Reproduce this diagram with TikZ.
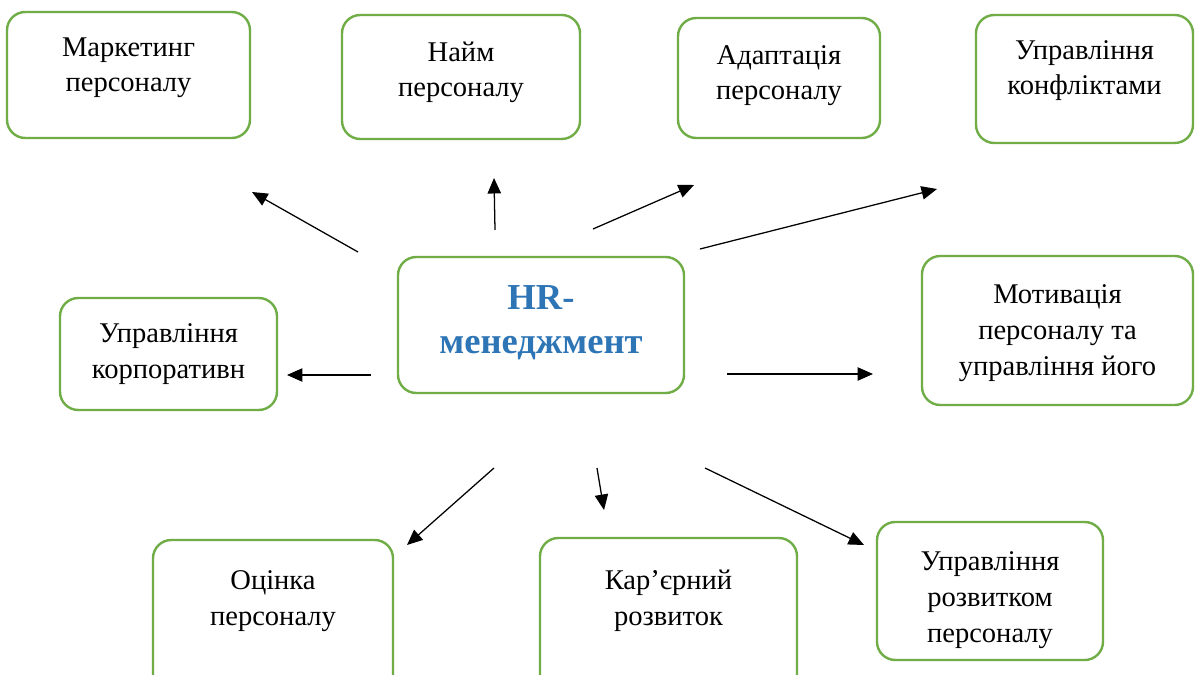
\documentclass[tikz,border=0pt]{standalone}
\usepackage{fontspec}
\setmainfont{Liberation Serif}
\usepackage{xcolor}
\usetikzlibrary{positioning, fit, arrows.meta}

\definecolor{boxgreen}{HTML}{70AD47}
\definecolor{hrblue}{HTML}{2E75B6}

\tikzset{
	block/.style={draw=boxgreen, line width=1.7pt, rounded corners=13pt, inner sep=0pt},
	lbl/.style={align=center, inner sep=0pt, anchor=base, font=\fontsize{20.3}{25.5}\selectfont},
	link/.style={-{Triangle[length=11pt, width=9.5pt]}, line width=0.9pt}
}

\begin{document}
\begin{tikzpicture}[x=0.025cm, y=-0.025cm]
	\clip (0, 0) rectangle (1195, 675);
	\fill[white] (0, 0) rectangle (1195, 675);
	
	% boxes
	\foreach \n/\xa/\ya/\xb/\yb in {mkt/7/12/250/138, hire/342/15/580/139, adapt/678/18/880/138, confl/976/15/1193/143,
		corp/60/298/277/410, hr/398/257/684/393, motiv/922/256/1193/405,
		eval/153/540/393/700, career/540/538/797/700, devel/877/522/1103/660} {
		\node[block, fit={(\xa, \ya) (\xb, \yb)}] (\n) {};
	};
	
	% texts (anchored at the last baseline)
	\node[lbl] (mkt-t) at (mkt.center |- 0, 92) {Маркетинг\\персоналу};
	\node[lbl] (hire-t) at (hire.center |- 0, 97) {Найм\\персоналу};
	\node[lbl] (adapt-t) at (adapt.center |- 0, 100) {Адаптація\\персоналу};
	\node[lbl] (confl-t) at (confl.center |- 0, 95) {Управління\\конфліктами};
	\node[lbl] (corp-t) at (corp.center |- 0, 378) {Управління\\корпоративн};
	\node[lbl, font=\fontsize{26}{31}\selectfont\bfseries, text=hrblue] (hr-t) at (hr.center |- 0, 353) {HR-\\менеджмент};
	\node[lbl] (motiv-t) at (motiv.center |- 0, 375) {Мотивація\\персоналу та\\управління його};
	\node[lbl] (eval-t) at (eval.center |- 0, 625) {Оцінка\\персоналу};
	\node[lbl] (career-t) at (career.center |- 0, 625) {Кар’єрний\\розвиток};
	\node[lbl] (devel-t) at (devel.center |- 0, 642) {Управління\\розвитком\\персоналу};
	
	% arrows
	\foreach \t/\xa/\ya/\xb/\yb in {mkt/358/252/252/192, hire/495/230/494/178, adapt/593/229/694/185, confl/700/249/937/189,
		corp/371/375/287/375, motiv/727/374/873/374,
		eval/494/468/407/545, career/597/468/604/510, devel/705/468/864/545} {
		\coordinate (\t-s) at (\xa, \ya);
		\coordinate (\t-e) at (\xb, \yb);
		\draw[link] (\t-s) -- (\t-e);
	};
\end{tikzpicture}
\end{document}
